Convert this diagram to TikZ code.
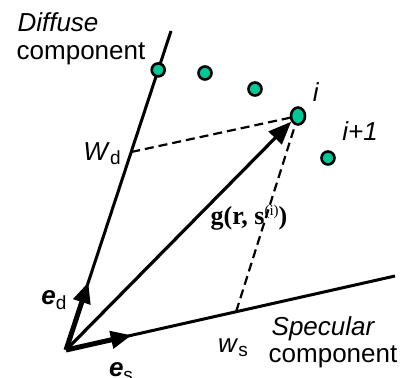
\documentclass[tikz,border=0pt]{standalone}
\usepackage{fontspec}
\setmainfont{Liberation Sans}
\newfontfamily\serifb{Liberation Serif}
\usetikzlibrary{arrows.meta,calc,shapes.geometric}
\definecolor{dotc}{RGB}{0,200,150}
\tikzset{
  axisline/.style={line width=3pt},
  basevec/.style={line width=5pt,-{Triangle[length=21pt,width=17pt]}},
  dashline/.style={line width=2.2pt,dash pattern=on 9pt off 5pt},
  sample/.style={circle,draw=black,fill=dotc,line width=2.6pt,minimum size=13pt,inner sep=0pt},
  lab/.style={font=\fontsize{26}{28}\selectfont,inner sep=0pt},
}
\begin{document}
\begin{tikzpicture}[x=1pt,y=-1pt]
\useasboundingbox (0,0) rectangle (403,377);
\coordinate (O) at (66,350);
\coordinate (Dt) at (171,31);
\coordinate (Se) at (395,276);
\draw[axisline] (O) -- (Dt);
\draw[axisline] (O) -- (Se);
\coordinate (Wd) at ($(O)!0.6207!(Dt)$);
\coordinate (Ws) at ($(O)!0.517!(Se)$);
\node[sample] (d1) at ($(O)!0.878!(Dt)$) {};
\node[sample] (d2) at (205,73) {};
\node[sample] (d3) at (255,89) {};
\node[sample] (d5) at (328,158) {};
\coordinate (ic) at (298,116);
\draw[dashline] (Wd) -- (ic);
\draw[dashline] (ic) -- (Ws);
\node[sample,ellipse,minimum width=14pt,minimum height=17pt] (di) at (ic) {};
\draw[line width=3.2pt,-{Triangle[length=23pt,width=18pt]},shorten >=0pt] (O) -- (di.220);
\coordinate (Ed) at ($(O)!0.213!(Dt)$);
\coordinate (Es) at ($(O)!0.2!(Se)$);
\draw[basevec] (O) -- (Ed);
\draw[basevec] (O) -- (Es);
\node[lab,anchor=base,font=\fontsize{26}{28}\selectfont\itshape] (tdif) at (58,32) {Diffuse};
\node[lab,anchor=base] (tdc) at (81,60) {component};
\node[lab,anchor=base] (twd) at (102,160) {\textit{W}\raisebox{-4pt}{\fontsize{19}{20}\selectfont d}};
\node[lab,anchor=base] (ti) at (316,101) {\textit{i}};
\node[lab,anchor=base] (ti1) at (360,140) {\textit{i+1}};
\node[inner sep=0pt,anchor=base] (tg) at (249,224) {\serifb\fontsize{26}{28}\selectfont\textbf{g(r, s}\raisebox{9pt}{\fontsize{15}{16}\selectfont(i)}\textbf{)}};
\node[lab,anchor=base] (ted) at (54,304) {\textbf{\textit{e}}\raisebox{-5pt}{\fontsize{19}{20}\selectfont d}};
\node[lab,anchor=base] (tes) at (121,376) {\textbf{\textit{e}}\raisebox{-5pt}{\fontsize{19}{20}\selectfont s}};
\node[lab,anchor=base] (tws) at (233,352) {\textit{w}\raisebox{-4pt}{\fontsize{19}{20}\selectfont s}};
\node[lab,anchor=base,font=\fontsize{26}{28}\selectfont\itshape] (tsp) at (323,335) {Specular};
\node[lab,anchor=base] (tsc) at (333,362) {component};
\end{tikzpicture}
\end{document}
